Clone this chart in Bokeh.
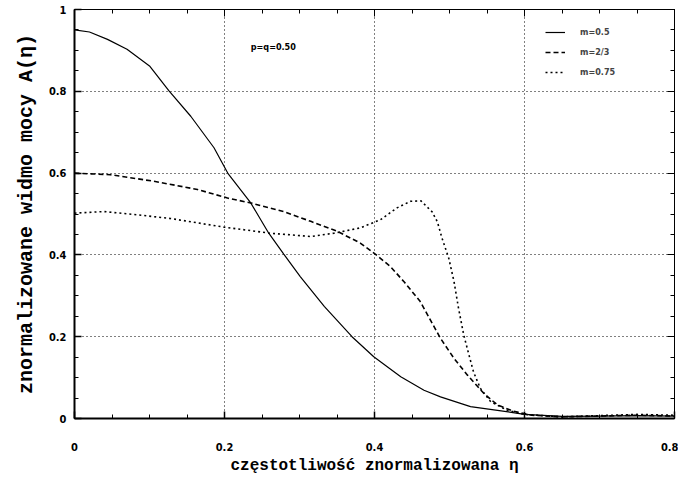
from bokeh.plotting import figure
from bokeh.models import LinearAxis, FixedTicker, Legend, LegendItem, Label, Range1d
from bokeh.embed import file_html
from bokeh.resources import INLINE

# m = 0.5 (solid)
x_m05 = [0, 0.02, 0.044, 0.07, 0.10, 0.126, 0.155, 0.186, 0.205, 0.235, 0.259, 0.279,
         0.301, 0.333, 0.37, 0.399, 0.435, 0.466, 0.488, 0.528, 0.564, 0.60, 0.65, 0.70, 0.75, 0.80]
y_m05 = [0.950, 0.945, 0.927, 0.903, 0.862, 0.801, 0.739, 0.662, 0.598, 0.527, 0.453, 0.402,
         0.347, 0.274, 0.200, 0.151, 0.102, 0.069, 0.053, 0.029, 0.020, 0.010, 0.005, 0.006, 0.007, 0.006]

# m = 2/3 (dashed)
x_m23 = [0, 0.048, 0.106, 0.164, 0.204, 0.235, 0.279, 0.315, 0.35, 0.381, 0.401, 0.421, 0.44,
         0.461, 0.488, 0.506, 0.524, 0.546, 0.564, 0.585, 0.61, 0.65, 0.70, 0.75, 0.80]
y_m23 = [0.600, 0.596, 0.580, 0.560, 0.539, 0.527, 0.506, 0.482, 0.458, 0.429, 0.402, 0.372, 0.333,
         0.286, 0.196, 0.147, 0.106, 0.061, 0.033, 0.018, 0.008, 0.004, 0.006, 0.008, 0.006]

# m = 0.75 (dotted)
x_m075 = [0, 0.039, 0.084, 0.128, 0.199, 0.261, 0.315, 0.346, 0.381, 0.408, 0.430, 0.448, 0.462,
          0.477, 0.484, 0.490, 0.499, 0.506, 0.512, 0.519, 0.526, 0.532, 0.541, 0.555, 0.577,
          0.60, 0.65, 0.70, 0.75, 0.80]
y_m075 = [0.502, 0.506, 0.498, 0.489, 0.468, 0.453, 0.445, 0.453, 0.466, 0.486, 0.515, 0.531, 0.532,
          0.505, 0.480, 0.441, 0.392, 0.335, 0.270, 0.204, 0.155, 0.114, 0.074, 0.041, 0.020,
          0.010, 0.004, 0.007, 0.010, 0.008]

x_ticks = [0, 0.2, 0.4, 0.6, 0.8]
x_tick_labels = {0: "0", 0.2: "0.2", 0.4: "0.4", 0.6: "0.6", 0.8: "0.8"}
y_ticks = [0, 0.2, 0.4, 0.6, 0.8, 1]
y_tick_labels = {0: "0", 0.2: "0.2", 0.4: "0.4", 0.6: "0.6", 0.8: "0.8", 1: "1"}
minor = [round(i * 0.05, 2) for i in range(21)]

labels = ["m=0.5", "m=2/3", "m=0.75"]
annotation = "p=q=0.50"

p = figure(width=678, height=477, output_backend="svg", toolbar_location=None,
           x_range=Range1d(0, 0.8), y_range=Range1d(0, 1),
           min_border_left=74, min_border_right=4, min_border_top=9, min_border_bottom=56)
p.background_fill_color = "white"
p.outline_line_color = "black"
p.outline_line_width = 1

mono = "Liberation Mono"
tickfont = "DejaVu Sans Condensed"

for ax in (p.xaxis[0], p.yaxis[0]):
    ax.major_tick_in = 7
    ax.major_tick_out = 0
    ax.minor_tick_in = 4
    ax.minor_tick_out = 0
    ax.axis_line_width = 2
    ax.major_tick_line_width = 1.5
    ax.major_label_text_font = tickfont
    ax.major_label_text_font_style = "bold"
    ax.major_label_text_font_size = "11px"
    ax.major_label_text_color = "black"
    ax.axis_label_text_font = mono
    ax.axis_label_text_font_style = "bold"
    ax.axis_label_text_color = "black"

p.xaxis[0].ticker = FixedTicker(ticks=x_ticks, minor_ticks=minor)
p.xaxis[0].major_label_overrides = x_tick_labels
p.xaxis[0].major_label_standoff = 24
p.xaxis[0].axis_label = "częstotliwość znormalizowana η"
p.xaxis[0].axis_label_text_font_size = "16px"
p.xaxis[0].axis_label_standoff = 3

p.yaxis[0].ticker = FixedTicker(ticks=y_ticks, minor_ticks=minor)
p.yaxis[0].major_label_overrides = y_tick_labels
p.yaxis[0].major_label_standoff = 8
p.yaxis[0].axis_label = "znormalizowane widmo mocy A(η)"
p.yaxis[0].axis_label_text_font_size = "20px"
p.yaxis[0].axis_label_standoff = 8

empty_y = {t: "" for t in y_ticks}
empty_x = {t: "" for t in x_ticks}
right_ax = LinearAxis(ticker=FixedTicker(ticks=y_ticks, minor_ticks=minor),
                      major_label_overrides=empty_y, major_label_text_font_size="1px",
                      major_tick_in=7, major_tick_out=0,
                      minor_tick_in=4, minor_tick_out=0, major_label_standoff=0)
top_ax = LinearAxis(ticker=FixedTicker(ticks=x_ticks, minor_ticks=minor),
                    major_label_overrides=empty_x, major_label_text_font_size="1px",
                    major_tick_in=7, major_tick_out=0,
                    minor_tick_in=4, minor_tick_out=0, major_label_standoff=0)
p.add_layout(right_ax, "right")
p.add_layout(top_ax, "above")

p.xgrid.ticker = FixedTicker(ticks=[0.2, 0.4, 0.6])
p.ygrid.ticker = FixedTicker(ticks=[0.2, 0.4, 0.6, 0.8])
for g in (p.xgrid[0], p.ygrid[0]):
    g.grid_line_color = "black"
    g.grid_line_dash = "1 3"
    g.grid_line_width = 1

r1 = p.line(x_m05, y_m05, line_color="black", line_width=1.2)
r2 = p.line(x_m23, y_m23, line_color="black", line_width=1.6, line_dash="5 3")
r3 = p.line(x_m075, y_m075, line_color="black", line_width=1.6, line_dash="2 3")

legend = Legend(items=[LegendItem(label=labels[0], renderers=[r1]),
                       LegendItem(label=labels[1], renderers=[r2]),
                       LegendItem(label=labels[2], renderers=[r3])],
                location=(471, 336), border_line_color=None, background_fill_alpha=0,
                glyph_width=20, label_text_font=tickfont, label_text_font_style="bold",
                label_text_font_size="9px", spacing=0, label_standoff=15)
p.add_layout(legend)

p.add_layout(Label(x=0.235, y=0.895, text=annotation, text_font=tickfont,
                   text_font_style="bold", text_font_size="9px", text_color="black"))

open("out.html", "w").write(file_html(p, INLINE))
